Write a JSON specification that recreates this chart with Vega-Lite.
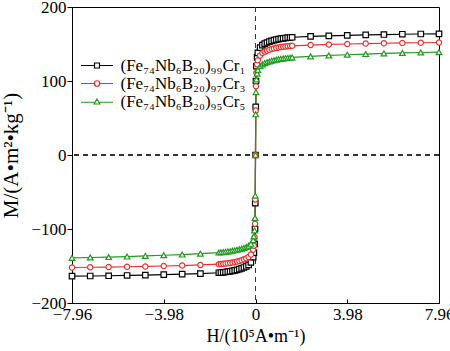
{
  "$schema": "https://vega.github.io/schema/vega-lite/v6.json",
  "width": 367,
  "height": 296,
  "autosize": {"type": "none"},
  "padding": {"left": 72, "top": 7, "right": 11, "bottom": 48},
  "background": "white",
  "config": {
    "font": "Liberation Serif",
    "view": {"stroke": "black", "strokeWidth": 1},
    "axis": {"grid": false, "domainColor": "black", "tickColor": "black", "labelColor": "black", "titleColor": "black", "labelFont": "Liberation Serif", "titleFont": "Liberation Serif", "labelFontSize": 17, "titleFontSize": 18, "titleFontWeight": "normal", "labelFlush": false, "labelOverlap": false},
    "legend": {"orient": "none", "legendX": 16.5, "legendY": 50, "padding": 0, "rowPadding": 0, "labelFont": "Liberation Serif", "labelFontSize": 17, "labelColor": "black", "labelLimit": 0, "symbolSize": 25, "symbolStrokeWidth": 1.2, "labelOffset": 15, "symbolFillColor": "white"}
  },
  "data": {"values": [
    {"s":"a","H":-7.96,"M":-163.8},{"s":"a","H":-7.17,"M":-163.5},{"s":"a","H":-6.37,"M":-163.2},{"s":"a","H":-5.57,"M":-162.8},{"s":"a","H":-4.78,"M":-162.3},{"s":"a","H":-3.98,"M":-161.7},{"s":"a","H":-3.18,"M":-161},{"s":"a","H":-2.39,"M":-160.2},{"s":"a","H":-1.59,"M":-159.1},{"s":"a","H":-1.5,"M":-158.8},{"s":"a","H":-1.4,"M":-158.5},{"s":"a","H":-1.3,"M":-158.1},{"s":"a","H":-1.2,"M":-157.7},{"s":"a","H":-1.1,"M":-157.2},{"s":"a","H":-1.0,"M":-156.6},{"s":"a","H":-0.9,"M":-156},{"s":"a","H":-0.8,"M":-155.2},{"s":"a","H":-0.7,"M":-154.3},{"s":"a","H":-0.6,"M":-153.3},{"s":"a","H":-0.5,"M":-152},{"s":"a","H":-0.4,"M":-150.5},{"s":"a","H":-0.3,"M":-148.5},{"s":"a","H":-0.2,"M":-145},{"s":"a","H":-0.1,"M":-138},{"s":"a","H":-0.07,"M":-132},{"s":"a","H":-0.04,"M":-120},{"s":"a","H":-0.02,"M":-100},{"s":"a","H":-0.01,"M":-65},{"s":"a","H":0,"M":0},
    {"s":"a","H":0.01,"M":65},{"s":"a","H":0.02,"M":100},{"s":"a","H":0.04,"M":120},{"s":"a","H":0.07,"M":132},{"s":"a","H":0.1,"M":138},{"s":"a","H":0.2,"M":145},{"s":"a","H":0.3,"M":148.5},{"s":"a","H":0.4,"M":150.5},{"s":"a","H":0.5,"M":152},{"s":"a","H":0.6,"M":153.3},{"s":"a","H":0.7,"M":154.3},{"s":"a","H":0.8,"M":155.2},{"s":"a","H":0.9,"M":156},{"s":"a","H":1.0,"M":156.6},{"s":"a","H":1.1,"M":157.2},{"s":"a","H":1.2,"M":157.7},{"s":"a","H":1.3,"M":158.1},{"s":"a","H":1.4,"M":158.5},{"s":"a","H":1.5,"M":158.8},{"s":"a","H":1.59,"M":159.1},{"s":"a","H":2.39,"M":160.2},{"s":"a","H":3.18,"M":161},{"s":"a","H":3.98,"M":161.7},{"s":"a","H":4.78,"M":162.3},{"s":"a","H":5.57,"M":162.8},{"s":"a","H":6.37,"M":163.2},{"s":"a","H":7.17,"M":163.5},{"s":"a","H":7.96,"M":163.8},
    {"s":"b","H":-7.96,"M":-152},{"s":"b","H":-7.17,"M":-151.7},{"s":"b","H":-6.37,"M":-151.4},{"s":"b","H":-5.57,"M":-151},{"s":"b","H":-4.78,"M":-150.6},{"s":"b","H":-3.98,"M":-150},{"s":"b","H":-3.18,"M":-149.4},{"s":"b","H":-2.39,"M":-148.6},{"s":"b","H":-1.59,"M":-147.6},{"s":"b","H":-1.5,"M":-147.4},{"s":"b","H":-1.4,"M":-147.1},{"s":"b","H":-1.3,"M":-146.7},{"s":"b","H":-1.2,"M":-146.3},{"s":"b","H":-1.1,"M":-145.9},{"s":"b","H":-1.0,"M":-145.3},{"s":"b","H":-0.9,"M":-144.8},{"s":"b","H":-0.8,"M":-144},{"s":"b","H":-0.7,"M":-143.2},{"s":"b","H":-0.6,"M":-142.3},{"s":"b","H":-0.5,"M":-141},{"s":"b","H":-0.4,"M":-139.7},{"s":"b","H":-0.3,"M":-137.8},{"s":"b","H":-0.2,"M":-134.5},{"s":"b","H":-0.1,"M":-128},{"s":"b","H":-0.07,"M":-122.5},{"s":"b","H":-0.04,"M":-111},{"s":"b","H":-0.02,"M":-93},{"s":"b","H":-0.01,"M":-60},{"s":"b","H":0,"M":0},
    {"s":"b","H":0.01,"M":60},{"s":"b","H":0.02,"M":93},{"s":"b","H":0.04,"M":111},{"s":"b","H":0.07,"M":122.5},{"s":"b","H":0.1,"M":128},{"s":"b","H":0.2,"M":134.5},{"s":"b","H":0.3,"M":137.8},{"s":"b","H":0.4,"M":139.7},{"s":"b","H":0.5,"M":141},{"s":"b","H":0.6,"M":142.3},{"s":"b","H":0.7,"M":143.2},{"s":"b","H":0.8,"M":144},{"s":"b","H":0.9,"M":144.8},{"s":"b","H":1.0,"M":145.3},{"s":"b","H":1.1,"M":145.9},{"s":"b","H":1.2,"M":146.3},{"s":"b","H":1.3,"M":146.7},{"s":"b","H":1.4,"M":147.1},{"s":"b","H":1.5,"M":147.4},{"s":"b","H":1.59,"M":147.6},{"s":"b","H":2.39,"M":148.6},{"s":"b","H":3.18,"M":149.4},{"s":"b","H":3.98,"M":150},{"s":"b","H":4.78,"M":150.6},{"s":"b","H":5.57,"M":151},{"s":"b","H":6.37,"M":151.4},{"s":"b","H":7.17,"M":151.7},{"s":"b","H":7.96,"M":152},
    {"s":"c","H":-7.96,"M":-139},{"s":"c","H":-7.17,"M":-138.5},{"s":"c","H":-6.37,"M":-137.9},{"s":"c","H":-5.57,"M":-137.2},{"s":"c","H":-4.78,"M":-136.4},{"s":"c","H":-3.98,"M":-135.5},{"s":"c","H":-3.18,"M":-134.5},{"s":"c","H":-2.39,"M":-133.3},{"s":"c","H":-1.59,"M":-131.8},{"s":"c","H":-1.5,"M":-131.5},{"s":"c","H":-1.4,"M":-131.2},{"s":"c","H":-1.3,"M":-130.8},{"s":"c","H":-1.2,"M":-130.4},{"s":"c","H":-1.1,"M":-129.9},{"s":"c","H":-1.0,"M":-129.4},{"s":"c","H":-0.9,"M":-128.8},{"s":"c","H":-0.8,"M":-128.1},{"s":"c","H":-0.7,"M":-127.4},{"s":"c","H":-0.6,"M":-126.5},{"s":"c","H":-0.5,"M":-125.5},{"s":"c","H":-0.4,"M":-124.2},{"s":"c","H":-0.3,"M":-122.5},{"s":"c","H":-0.2,"M":-120},{"s":"c","H":-0.1,"M":-115},{"s":"c","H":-0.07,"M":-110},{"s":"c","H":-0.04,"M":-102},{"s":"c","H":-0.02,"M":-85},{"s":"c","H":-0.01,"M":-55},{"s":"c","H":0,"M":0},
    {"s":"c","H":0.01,"M":55},{"s":"c","H":0.02,"M":85},{"s":"c","H":0.04,"M":102},{"s":"c","H":0.07,"M":110},{"s":"c","H":0.1,"M":115},{"s":"c","H":0.2,"M":120},{"s":"c","H":0.3,"M":122.5},{"s":"c","H":0.4,"M":124.2},{"s":"c","H":0.5,"M":125.5},{"s":"c","H":0.6,"M":126.5},{"s":"c","H":0.7,"M":127.4},{"s":"c","H":0.8,"M":128.1},{"s":"c","H":0.9,"M":128.8},{"s":"c","H":1.0,"M":129.4},{"s":"c","H":1.1,"M":129.9},{"s":"c","H":1.2,"M":130.4},{"s":"c","H":1.3,"M":130.8},{"s":"c","H":1.4,"M":131.2},{"s":"c","H":1.5,"M":131.5},{"s":"c","H":1.59,"M":131.8},{"s":"c","H":2.39,"M":133.3},{"s":"c","H":3.18,"M":134.5},{"s":"c","H":3.98,"M":135.5},{"s":"c","H":4.78,"M":136.4},{"s":"c","H":5.57,"M":137.2},{"s":"c","H":6.37,"M":137.9},{"s":"c","H":7.17,"M":138.5},{"s":"c","H":7.96,"M":139}
  ]},
  "layer": [
    {"mark": {"type": "rule", "strokeDash": [5, 4], "color": "#333333", "strokeWidth": 1}, "encoding": {"y": {"datum": 0, "type": "quantitative"}}},
    {"mark": {"type": "rule", "strokeDash": [5, 4], "color": "#333333", "strokeWidth": 1}, "encoding": {"x": {"datum": 0, "type": "quantitative"}}},
    {"mark": {"type": "line", "strokeWidth": 1.2},
     "encoding": {
       "x": {"field": "H", "type": "quantitative", "scale": {"domain": [-7.96, 7.96], "nice": false, "zero": false},
             "axis": {"values": [-7.96, -3.98, 0, 3.98, 7.96], "labelExpr": "datum.value == 0 ? '0' : format(datum.value, '.2f')", "tickSize": -4, "labelPadding": 7, "title": "H/(10⁵A•m⁻¹)", "titleX": 183.5, "titleY": 38, "titleBaseline": "alphabetic", "titleAlign": "center"}},
       "y": {"field": "M", "type": "quantitative", "scale": {"domain": [-200, 200], "nice": false},
             "axis": {"values": [-200, -150, -100, -50, 0, 50, 100, 150, 200], "tickSize": 5, "labelPadding": 1, "title": "M/(A•m²•kg⁻¹)\u00a0\u00a0\u00a0", "titleX": -55, "titleBaseline": "alphabetic", "titleAlign": "center", "titleAngle": -90, "titleFontSize": 21}},
       "color": {"field": "s", "type": "nominal", "scale": {"domain": ["a", "b", "c"], "range": ["#000000", "#e8312f", "#1f9a1f"]}}
     }},
    {"transform": [{"filter": "datum.s == 'a'"}], "mark": {"type": "point", "shape": "square", "filled": false, "fill": "white", "size": 30, "strokeWidth": 1.2, "opacity": 1},
     "encoding": {"x": {"field": "H", "type": "quantitative"}, "y": {"field": "M", "type": "quantitative"}, "color": {"field": "s", "type": "nominal"}}},
    {"transform": [{"filter": "datum.s == 'b'"}], "mark": {"type": "point", "shape": "circle", "filled": false, "fill": "white", "size": 28, "strokeWidth": 1.2, "opacity": 1},
     "encoding": {"x": {"field": "H", "type": "quantitative"}, "y": {"field": "M", "type": "quantitative"}, "color": {"field": "s", "type": "nominal"}}},
    {"transform": [{"filter": "datum.s == 'c'"}], "mark": {"type": "point", "shape": "triangle-up", "filled": false, "fill": "white", "size": 32, "strokeWidth": 1.2, "opacity": 1},
     "encoding": {"x": {"field": "H", "type": "quantitative"}, "y": {"field": "M", "type": "quantitative"}, "color": {"field": "s", "type": "nominal"}}},
    {"transform": [{"filter": "datum.H > 100"}], "mark": {"type": "point", "filled": false, "strokeWidth": 1.2, "opacity": 1},
     "encoding": {
       "x": {"field": "H", "type": "quantitative"}, "y": {"field": "M", "type": "quantitative"},
       "color": {"field": "s", "type": "nominal", "legend": {"title": null, "labelLimit": 0, "labelExpr": "datum.value == 'a' ? '(Fe₇₄Nb₆B₂₀)₉₉Cr₁ ' : datum.value == 'b' ? '(Fe₇₄Nb₆B₂₀)₉₇Cr₃ ' : '(Fe₇₄Nb₆B₂₀)₉₅Cr₅ '"}},
       "shape": {"field": "s", "type": "nominal", "scale": {"domain": ["a", "b", "c"], "range": ["M-6.4,0H-1M1,0H6.4M-1,-1H1V1H-1Z", "M-6.4,0H-1.1M1.1,0H6.4M-1.1,0A1.1,1.1 0 1,1 1.1,0A1.1,1.1 0 1,1 -1.1,0Z", "M-6.4,0.3H-0.75M0.75,0.3H6.4M0,-1L1.15,1H-1.15Z"]},
                 "legend": {"title": null, "labelLimit": 0, "labelExpr": "datum.value == 'a' ? '(Fe₇₄Nb₆B₂₀)₉₉Cr₁ ' : datum.value == 'b' ? '(Fe₇₄Nb₆B₂₀)₉₇Cr₃ ' : '(Fe₇₄Nb₆B₂₀)₉₅Cr₅ '"}}
     }}
  ]
}
